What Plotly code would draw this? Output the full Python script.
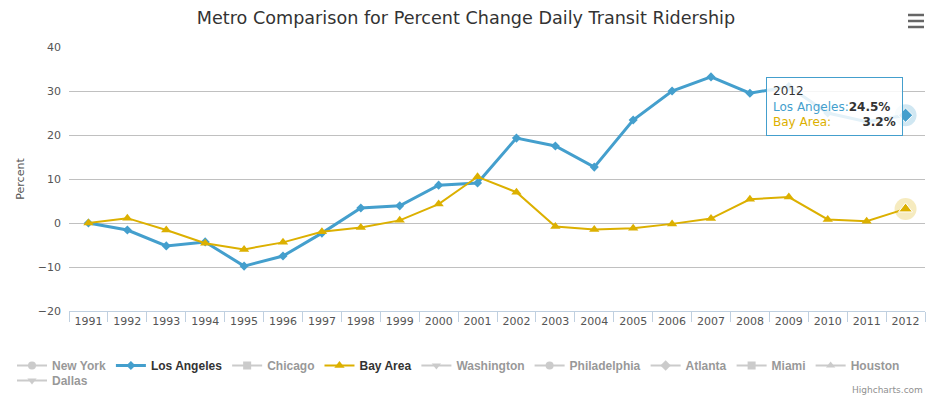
import plotly.graph_objects as go

years = [str(y) for y in range(1991, 2013)]
los_angeles = [0.0, -1.6, -5.2, -4.3, -9.8, -7.5, -2.3, 3.4, 3.9, 8.6, 9.1, 19.3,
               17.5, 12.7, 23.4, 30.0, 33.2, 29.5, 31.0, 25.0, 23.0, 24.5]
bay_area = [0.0, 1.1, -1.6, -4.6, -6.0, -4.4, -2.0, -1.0, 0.6, 4.3, 10.5, 7.0,
            -0.8, -1.5, -1.2, -0.2, 1.0, 5.4, 5.9, 0.8, 0.4, 3.2]
# series that are switched off in the legend (values not shown in the chart)
hidden_values = [None] * 22
hidden_series = ["New York", "Chicago", "Washington", "Philadelphia", "Atlanta",
                 "Miami", "Houston", "Dallas"]
hidden_symbols = ["circle", "square", "triangle-down", "circle", "diamond",
                  "square", "triangle-up", "triangle-down"]

LA_COLOR = "#449fcd"
BAY_COLOR = "#dcb000"
FONT = "DejaVu Sans"

fig = go.Figure()

def add_hidden(name, sym, legend="legend"):
    fig.add_trace(go.Scatter(
        x=years, y=hidden_values, name="<b>" + name + "</b>", mode="lines+markers",
        visible="legendonly", line=dict(color="#999999", width=2),
        marker=dict(symbol=sym, size=8, color="#999999"), legend=legend))

add_hidden(hidden_series[0], hidden_symbols[0])
fig.add_trace(go.Scatter(
    x=years, y=los_angeles, name="<b>Los Angeles</b>", mode="lines+markers",
    line=dict(color=LA_COLOR, width=3),
    marker=dict(symbol="diamond", size=7, color=LA_COLOR)))
add_hidden(hidden_series[1], hidden_symbols[1])
fig.add_trace(go.Scatter(
    x=years, y=bay_area, name="<b>Bay Area</b>", mode="lines+markers",
    line=dict(color=BAY_COLOR, width=2),
    marker=dict(symbol="triangle-up", size=9, color=BAY_COLOR)))
for n, s in zip(hidden_series[2:-1], hidden_symbols[2:-1]):
    add_hidden(n, s)
add_hidden(hidden_series[-1], hidden_symbols[-1], legend="legend2")

# hover halos on the last point
fig.add_trace(go.Scatter(
    x=[years[-1]], y=[los_angeles[-1]], mode="markers", showlegend=False,
    hoverinfo="skip",
    marker=dict(symbol="circle", size=22, color=LA_COLOR, opacity=0.25)))
fig.add_trace(go.Scatter(
    x=[years[-1]], y=[los_angeles[-1]], mode="markers", showlegend=False,
    hoverinfo="skip",
    marker=dict(symbol="diamond", size=11, color=LA_COLOR,
                line=dict(color="white", width=1))))
fig.add_trace(go.Scatter(
    x=[years[-1]], y=[bay_area[-1]], mode="markers", showlegend=False,
    hoverinfo="skip",
    marker=dict(symbol="circle", size=22, color=BAY_COLOR, opacity=0.25)))
fig.add_trace(go.Scatter(
    x=[years[-1]], y=[bay_area[-1]], mode="markers", showlegend=False,
    hoverinfo="skip",
    marker=dict(symbol="triangle-up", size=12, color=BAY_COLOR,
                line=dict(color="white", width=1))))

# page body has an 8px margin: work in reference pixels, shift by OFF
OFF = 8
W, H = 935 - OFF, 397 - OFF
L, R, T = 69 - OFF, 10, 47 - OFF
B = H - (311 - OFF)
pw, ph = W - L - R, H - T - B

def px(x):
    return (x - OFF - L) / pw

def py(y):
    return (H - B - (y - OFF)) / ph

tooltip = ("<span style='color:#333333'>2012</span><br>"
           f"<span style='color:{LA_COLOR}'>Los Angeles:</span><b>{los_angeles[-1]}%</b><br>"
           f"<span style='color:{BAY_COLOR}'>Bay Area:      </span><b>  {bay_area[-1]}%</b>")

legend_font = dict(family="Liberation Sans", size=12, color="#333333")

fig.update_layout(
    width=W, height=H,
    margin=dict(l=L, r=R, t=T, b=B, autoexpand=False),
    paper_bgcolor="white", plot_bgcolor="white",
    font=dict(family=FONT, size=11, color="#666666"),
    title=dict(text="Metro Comparison for Percent Change Daily Transit Ridership",
               x=(466 - OFF) / W, xanchor="center", y=1 - (18 - OFF) / H,
               yanchor="middle",
               font=dict(family=FONT, size=17.6, color="#333333")),
    xaxis=dict(type="category", range=[-0.5, len(years) - 0.5],
               showgrid=False, showline=True,
               linecolor="#c0d0e0", linewidth=1, ticks="outside",
               tickson="boundaries", ticklen=10, tickcolor="#c0d0e0",
               tickangle=0, automargin=False,
               tickfont=dict(size=11, color="#555555"), fixedrange=True),
    yaxis=dict(range=[-20, 40], dtick=10, showgrid=True, gridcolor="#c0c0c0",
               gridwidth=1, zeroline=False, showline=False, automargin=False,
               tickfont=dict(size=11, color="#555555"),
               title=dict(text="Percent", font=dict(size=11, color="#555555"),
                          standoff=10),
               ticksuffix="  "),
    legend=dict(orientation="h", x=px(12), y=py(351), xanchor="left",
                yanchor="top", font=legend_font,
                itemwidth=30, tracegroupgap=0, bgcolor="rgba(0,0,0,0)"),
    legend2=dict(orientation="h", x=px(12), y=py(366), xanchor="left",
                 yanchor="top", font=legend_font,
                 itemwidth=30, tracegroupgap=0, bgcolor="rgba(0,0,0,0)"),
    showlegend=True,
    hovermode=False,
    annotations=[
        dict(text=tooltip, xref="paper", yref="paper", x=px(766), y=py(77),
             xanchor="left", yanchor="top", showarrow=False, align="left",
             bgcolor="rgba(255,255,255,0.85)", bordercolor=LA_COLOR,
             borderwidth=1, borderpad=6,
             font=dict(family=FONT, size=12, color="#333333")),
        dict(text="Highcharts.com", xref="paper", yref="paper",
             x=px(925), y=py(390), xanchor="right", yanchor="middle",
             showarrow=False, font=dict(family=FONT, size=9, color="#909090")),
    ],
    shapes=[
        dict(type="line", xref="paper", yref="paper", x0=px(908), x1=px(924),
             y0=py(yy), y1=py(yy), line=dict(color="#666666", width=2.5))
        for yy in (15, 21, 27)
    ],
)

fig.write_html("out.html")
